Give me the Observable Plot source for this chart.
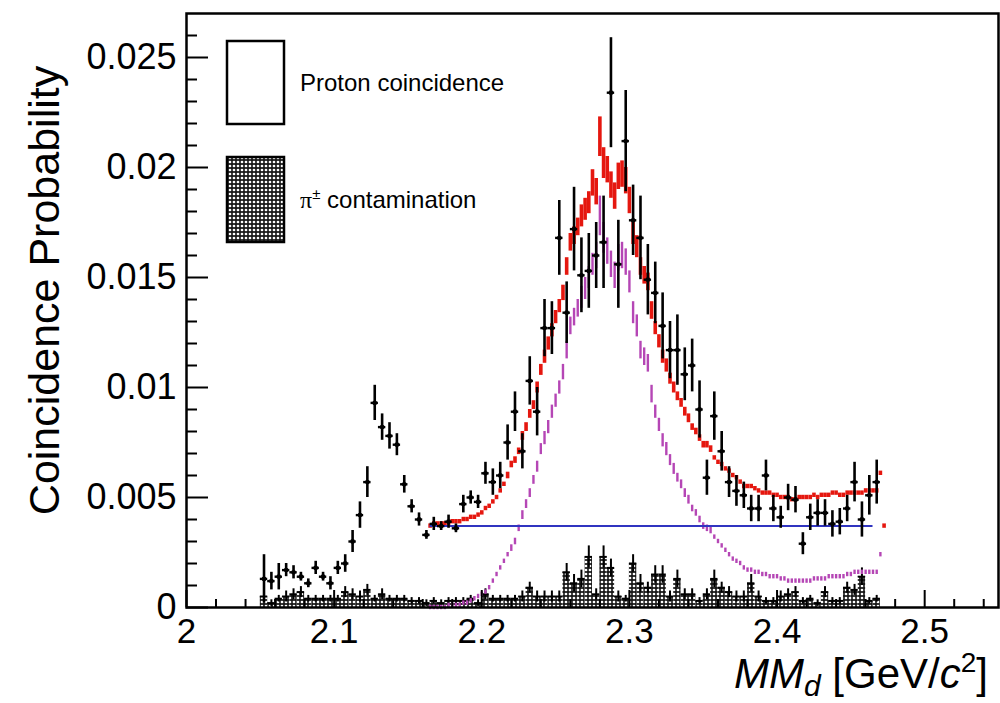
<!DOCTYPE html>
<html><head><meta charset="utf-8">
<script src="https://cdn.jsdelivr.net/npm/d3@7"></script>
<script src="https://cdn.jsdelivr.net/npm/@observablehq/plot@0.6"></script>
<style>body{margin:0;background:#fff}</style>
</head><body><div id="chart"></div>
<script>
// ---- data ----
const binLow = 2.05, binWidth = 0.005;
const coincidence = [
 0.0013,0.0012,0.0014,0.0017,0.0016,0.0014,0.0011,0.0018,0.0014,0.0011,
 0.0018,0.0020,0.0030,0.0042,0.0057,0.0093,0.0082,0.0078,0.0074,0.0056,
 0.0046,0.0040,0.0033,0.0038,0.0037,0.0039,0.0036,0.0047,0.0050,0.0048,
 0.0061,0.0057,0.0060,0.0075,0.0089,0.0071,0.0103,0.0089,0.0127,0.0127,
 0.0168,0.0134,0.0172,0.0151,0.0153,0.0160,0.0166,0.0234,0.0156,0.0212,
 0.0176,0.0168,0.0149,0.0143,0.0128,0.0117,0.0117,0.0106,0.0110,0.0090,
 0.0059,0.0087,0.0071,0.0057,0.0053,0.0051,0.0045,0.0045,0.0060,0.0045,
 0.0041,0.0050,0.0049,0.0029,0.0041,0.0043,0.0043,0.0038,0.0039,0.0045,
 0.0057,0.0040,0.0051,0.0057];
const coincidenceErr = [
 0.0011,0.0004,0.0006,0.0003,0.0003,0.0002,0.0002,0.0003,0.0002,0.0003,
 0.0003,0.0004,0.0005,0.0006,0.0007,0.0008,0.0006,0.0006,0.0005,0.0004,
 0.0003,0.0003,0.0002,0.0003,0.0002,0.0003,0.0002,0.0004,0.0003,0.0003,
 0.0005,0.0006,0.0006,0.0008,0.0009,0.0008,0.0011,0.0011,0.0013,0.0012,
 0.0017,0.0014,0.0019,0.0017,0.0017,0.0015,0.0021,0.0025,0.0020,0.0023,
 0.0016,0.0019,0.0016,0.0014,0.0015,0.0013,0.0016,0.0012,0.0012,0.0013,
 0.0008,0.0011,0.0009,0.0007,0.0007,0.0006,0.0006,0.0006,0.0007,0.0006,
 0.0005,0.0006,0.0006,0.0005,0.0006,0.0006,0.0006,0.0006,0.0006,0.0006,
 0.0009,0.0008,0.0009,0.0010];
const pion = [
 0.0005,0.0002,0.0004,0.0005,0.0006,0.0007,0.0004,0.0004,0.0004,0.0004,
 0.0004,0.0007,0.0006,0.0005,0.0008,0.0004,0.0006,0.0004,0.0004,0.0004,
 0.0003,0.0003,0.0002,0.0003,0.0002,0.0003,0.0003,0.0003,0.0004,0.0002,
 0.0006,0.0004,0.0004,0.0004,0.0004,0.0005,0.0009,0.0005,0.0005,0.0005,
 0.0005,0.0016,0.0011,0.0013,0.0023,0.0006,0.0023,0.0018,0.0005,0.0004,
 0.0020,0.0011,0.0009,0.0015,0.0015,0.0005,0.0013,0.0006,0.0006,0.0003,
 0.0006,0.0013,0.0009,0.0007,0.0005,0.0005,0.0011,0.0005,0.0003,0.0003,
 0.0005,0.0006,0.0007,0.0003,0.0004,0.0002,0.0007,0.0003,0.0003,0.0009,
 0.0008,0.0014,0.0003,0.0004];
const pionErr = [
 0.00025,0.00015,0.00015,0.00025,0.00025,0.00025,0.00015,0.00015,0.00015,0.00015,
 0.00015,0.00025,0.00025,0.00025,0.00025,0.00015,0.00025,0.00015,0.00015,0.00015,
 0.00015,0.00015,0.00015,0.00015,0.00015,0.00015,0.00015,0.00015,0.00015,0.00015,
 0.00025,0.00015,0.00015,0.00015,0.00015,0.00025,0.00025,0.00025,0.00025,0.00025,
 0.00025,0.0004,0.0004,0.0004,0.0005,0.00025,0.0005,0.0004,0.00025,0.00015,
 0.0004,0.0004,0.00025,0.0004,0.0004,0.00025,0.0004,0.00025,0.00025,0.00015,
 0.00025,0.0004,0.00025,0.00025,0.00025,0.00025,0.0004,0.00025,0.00015,0.00015,
 0.00025,0.00025,0.00025,0.00015,0.00015,0.00015,0.00025,0.00015,0.00015,0.00025,
 0.00025,0.0004,0.00015,0.00015];

const fitStart = 2.165, fitStep = 0.0025;
const fitTotal = [
 0.0037,0.0038,0.0038,0.0038,0.0038,0.0038,0.0039,0.0039,0.0039,0.0040,
 0.0040,0.0041,0.0041,0.0042,0.0043,0.0045,0.0046,0.0048,0.0050,0.0053,
 0.0056,0.0060,0.0065,0.0067,0.0071,0.0078,0.0082,0.0088,0.0092,0.0100,
 0.0108,0.0114,0.0120,0.0126,0.0132,0.0137,0.0143,0.0155,0.0166,0.0169,
 0.0173,0.0178,0.0181,0.0184,0.0193,0.0189,0.0214,0.0202,0.0199,0.0192,
 0.0187,0.0196,0.0197,0.0194,0.0185,0.0170,0.0164,0.0155,0.0151,0.0148,
 0.0135,0.0127,0.0121,0.0114,0.0110,0.0104,0.0100,0.0096,0.0093,0.0089,
 0.0086,0.0082,0.0080,0.0077,0.0074,0.0074,0.0072,0.0068,0.0066,0.0065,
 0.0063,0.0062,0.0060,0.0059,0.0057,0.0055,0.0055,0.0055,0.0054,0.0053,
 0.0052,0.0052,0.0052,0.0051,0.0051,0.0050,0.0050,0.0050,0.0049,0.0049,
 0.0050,0.0050,0.0050,0.0050,0.0051,0.0050,0.0051,0.0051,0.0051,0.0052,
 0.0052,0.0051,0.0051,0.0052,0.0052,0.0052,0.0052,0.0052,0.0053,0.0053,
 0.0053,0.0053,0.0061,0.0037];
const fitTotalErr = [
 0.0001,0.0001,0.0001,0.0001,0.0001,0.0001,0.0001,0.0001,0.0001,0.0001,
 0.0001,0.0001,0.0001,0.0001,0.0001,0.0001,0.0001,0.0001,0.0001,0.0001,
 0.0001,0.00015,0.00015,0.00015,0.00015,0.0002,0.0002,0.0002,0.0002,0.00025,
 0.00025,0.0003,0.0003,0.0003,0.0003,0.0003,0.00035,0.0004,0.0004,0.0004,
 0.0004,0.0005,0.0005,0.0005,0.0006,0.0006,0.0009,0.0007,0.0006,0.0006,
 0.0006,0.0006,0.0006,0.0006,0.0006,0.0005,0.0005,0.0004,0.0004,0.0004,
 0.0004,0.0003,0.0003,0.0003,0.0003,0.00025,0.00025,0.0002,0.0002,0.0002,
 0.0002,0.00015,0.00015,0.00015,0.00015,0.00015,0.00015,0.0001,0.0001,0.0001,
 0.0001,0.0001,0.0001,0.0001,0.0001,0.0001,0.0001,0.0001,0.0001,0.0001,
 0.0001,0.0001,0.0001,0.0001,0.0001,0.0001,0.0001,0.0001,0.0001,0.0001,
 0.0001,0.0001,0.0001,0.0001,0.0001,0.0001,0.0001,0.0001,0.0001,0.0001,
 0.0001,0.0001,0.0001,0.0001,0.0001,0.0001,0.0001,0.0001,0.0001,0.0001,
 0.0001,0.0001,0.0001,0.0001];
const fitSignal = [
 0.0000,0.0000,0.0000,0.0000,0.0000,0.0001,0.0001,0.0001,0.0001,0.0002,
 0.0002,0.0003,0.0004,0.0005,0.0006,0.0007,0.0009,0.0012,0.0015,0.0018,
 0.0021,0.0024,0.0027,0.0030,0.0036,0.0042,0.0047,0.0052,0.0058,0.0064,
 0.0072,0.0077,0.0082,0.0089,0.0094,0.0100,0.0107,0.0117,0.0128,0.0132,
 0.0136,0.0141,0.0145,0.0150,0.0156,0.0160,0.0178,0.0168,0.0162,0.0156,
 0.0151,0.0159,0.0160,0.0157,0.0148,0.0134,0.0128,0.0117,0.0114,0.0111,
 0.0097,0.0089,0.0083,0.0076,0.0072,0.0067,0.0063,0.0059,0.0056,0.0052,
 0.0049,0.0045,0.0043,0.0040,0.0037,0.0036,0.0035,0.0032,0.0030,0.0028,
 0.0026,0.0024,0.0022,0.0021,0.0020,0.0018,0.0017,0.0017,0.0016,0.0016,
 0.0015,0.0015,0.0014,0.0014,0.0014,0.0013,0.0013,0.0012,0.0012,0.0012,
 0.0012,0.0012,0.0012,0.0012,0.0013,0.0013,0.0013,0.0013,0.0014,0.0014,
 0.0014,0.0014,0.0014,0.0015,0.0015,0.0016,0.0016,0.0016,0.0016,0.0016,
 0.0016,0.0016,0.0024];
const fitSignalErr = [
 0.0001,0.0001,0.0001,0.0001,0.0001,0.0001,0.0001,0.0001,0.0001,0.0001,
 0.0001,0.0001,0.0001,0.0001,0.0001,0.0001,0.0001,0.0001,0.0001,0.0001,
 0.0001,0.0001,0.00015,0.00015,0.00015,0.0002,0.0002,0.0002,0.0002,0.00025,
 0.00025,0.0003,0.0003,0.0003,0.0003,0.0003,0.00035,0.0004,0.0004,0.0004,
 0.0004,0.0005,0.0005,0.0005,0.0005,0.0006,0.0009,0.0007,0.0006,0.0006,
 0.0006,0.0006,0.0006,0.0006,0.0005,0.0005,0.0005,0.0004,0.0004,0.0004,
 0.0004,0.0003,0.0003,0.0003,0.0003,0.00025,0.00025,0.0002,0.0002,0.0002,
 0.0002,0.00015,0.00015,0.00015,0.00015,0.00015,0.00015,0.0001,0.0001,0.0001,
 0.0001,0.0001,0.0001,0.0001,0.0001,0.0001,0.0001,0.0001,0.0001,0.0001,
 0.0001,0.0001,0.0001,0.0001,0.0001,0.0001,0.0001,0.0001,0.0001,0.0001,
 0.0001,0.0001,0.0001,0.0001,0.0001,0.0001,0.0001,0.0001,0.0001,0.0001,
 0.0001,0.0001,0.0001,0.0001,0.0001,0.0001,0.0001,0.0001,0.0001,0.0001,
 0.0001,0.0001,0.0001];
const backgroundLevel = [0.0037];
const backgroundRange = [2.165, 2.465];

const xTicks = [2, 2.1, 2.2, 2.3, 2.4, 2.5];
const yTicks = [0, 0.005, 0.01, 0.015, 0.02, 0.025];
const legendLabels = ["Proton coincidence", "contamination"];
const yTitle = "Coincidence Probability";

// ---- tables ----
const bins = coincidence.map((v, i) => ({
  x: binLow + binWidth * (i + 0.5), v, e: coincidenceErr[i], p: pion[i], pe: pionErr[i]
}));
const total = fitTotal.map((v, i) => ({x: fitStart + fitStep * i, v, e: Math.max(fitTotalErr[i], 0.0001)}));
const signal = fitSignal.map((v, i) => ({x: fitStart + fitStep * i, v, e: Math.max(fitSignalErr[i], 0.00009)}));

const xMinor = d3.range(0, 28).map(i => 2 + i * 0.02).filter(t => Math.abs(Math.round(t * 10) / 10 - t) > 1e-6);
const yMinor = d3.range(1, 27).map(i => i / 1000).filter(t => (Math.round(t * 1000) % 5) !== 0);

const FONT = "'Liberation Sans', Arial, Helvetica, sans-serif";
const W = 1000, H = 703, ML = 186, MR = 2, MT = 13, MB = 96;
const frameW = W - ML - MR, frameH = H - MT - MB;
const RED = "#e5170f", MAG = "#b546b5", BLUE = "#3034c0";

const svg = Plot.plot({
  width: W, height: H,
  marginLeft: ML, marginRight: MR, marginTop: MT, marginBottom: MB,
  style: {fontFamily: FONT, background: "#fff", color: "#000"},
  x: {domain: [2, 2.55], axis: null},
  y: {domain: [0, 0.027], axis: null},
  marks: [
    // pion contamination histogram (dotted fill)
    Plot.rect(bins, {x1: d => d.x - binWidth / 2, x2: d => d.x + binWidth / 2, y1: d => 0, y2: "p", fill: "url(#dots)"}),
    Plot.ruleX(bins, {x: "x", y1: d => d.p - d.pe, y2: d => d.p + d.pe, stroke: "#000", strokeWidth: 2}),
    Plot.ruleY(bins, {y: "p", x1: d => d.x - binWidth / 2, x2: d => d.x + binWidth / 2, stroke: "#000", strokeWidth: 2}),
    // signal component (magenta)
    Plot.ruleX(signal, {x: "x", y1: d => d.v - d.e, y2: d => d.v + d.e, stroke: MAG, strokeWidth: 2.4}),
    // total (red)
    Plot.ruleX(total, {x: "x", y1: d => d.v - d.e, y2: d => d.v + d.e, stroke: RED, strokeWidth: 3.6}),
    // flat background (blue)
    Plot.ruleY(backgroundLevel, {y: d => d, x1: backgroundRange[0], x2: backgroundRange[1], stroke: BLUE, strokeWidth: 2}),
    // proton coincidence data
    Plot.ruleX(bins, {x: "x", y1: d => d.v - d.e, y2: d => d.v + d.e, stroke: "#000", strokeWidth: 2.6}),
    Plot.ruleY(bins, {y: "v", x1: d => d.x - binWidth / 2, x2: d => d.x + binWidth / 2, stroke: "#000", strokeWidth: 2.4}),
    Plot.dot(bins, {x: "x", y: "v", r: 2.4, fill: "#000"}),
    // frame and inward ticks
    Plot.frame({stroke: "#000", strokeWidth: 2.5}),
    Plot.ruleX(xTicks, {x: d => d, insetTop: frameH - 17, stroke: "#000", strokeWidth: 2}),
    Plot.ruleX(xMinor, {x: d => d, insetTop: frameH - 8, stroke: "#000", strokeWidth: 2}),
    Plot.ruleY(yTicks, {y: d => d, insetRight: frameW - 22, stroke: "#000", strokeWidth: 2}),
    Plot.ruleY(yMinor, {y: d => d, insetRight: frameW - 11, stroke: "#000", strokeWidth: 2}),
    // tick labels
    Plot.axisX({ticks: xTicks, tickSize: 0, tickPadding: 11, fontSize: 35, label: null, tickFormat: d => String(d)}),
    Plot.axisY({ticks: yTicks, tickSize: 0, tickPadding: 10, fontSize: 36, label: null, tickFormat: d => String(d)}),
    // y title
    Plot.text([yTitle], {text: d => d, frameAnchor: "left", textAnchor: "middle", rotate: -90, dx: -141, dy: -20, fontSize: 43, fill: "#000"})
  ]
});

const s = d3.select(svg);
const defs = s.insert("defs", ":first-child");
const pat = defs.append("pattern").attr("id", "dots").attr("width", 4).attr("height", 4)
  .attr("patternUnits", "userSpaceOnUse");
pat.append("rect").attr("width", 4).attr("height", 4).attr("fill", "#1a1a1a");
pat.append("circle").attr("cx", 2).attr("cy", 2).attr("r", 1.35).attr("fill", "#fff");

// x title
const xt = s.append("text").attr("x", 988).attr("y", 688).attr("text-anchor", "end")
  .attr("font-size", 42).attr("font-family", FONT).attr("fill", "#000");
xt.append("tspan").attr("font-style", "italic").text("MM");
xt.append("tspan").attr("font-style", "italic").attr("font-size", 30).attr("dy", 8).text("d");
xt.append("tspan").attr("dy", -8).text(" [GeV/");
xt.append("tspan").attr("font-style", "italic").text("c");
xt.append("tspan").attr("font-size", 28).attr("dy", -16).text("2");
xt.append("tspan").attr("dy", 16).text("]");

// legend
const lg = s.append("g").attr("font-family", FONT).attr("fill", "#000").attr("text-anchor", "start");
lg.append("rect").attr("x", 227).attr("y", 41).attr("width", 57).attr("height", 83)
  .attr("fill", "#fff").attr("stroke", "#000").attr("stroke-width", 2.5);
lg.append("text").attr("x", 300).attr("y", 83).attr("dy", "0.35em").attr("font-size", 24)
  .attr("text-anchor", "start").text(legendLabels[0]);
lg.append("rect").attr("x", 227).attr("y", 157).attr("width", 57).attr("height", 85)
  .attr("fill", "url(#dots)").attr("stroke", "#000").attr("stroke-width", 2.5);
const l2 = lg.append("text").attr("x", 300).attr("y", 200).attr("dy", "0.35em").attr("font-size", 24)
  .attr("text-anchor", "start");
l2.append("tspan").attr("font-family", "'Liberation Serif', 'DejaVu Serif', serif").text("π");
l2.append("tspan").attr("font-size", 15).attr("dy", -9).text("±");
l2.append("tspan").attr("dy", 9).text(" " + legendLabels[1]);

document.getElementById("chart").appendChild(svg);
</script>
</body></html>
